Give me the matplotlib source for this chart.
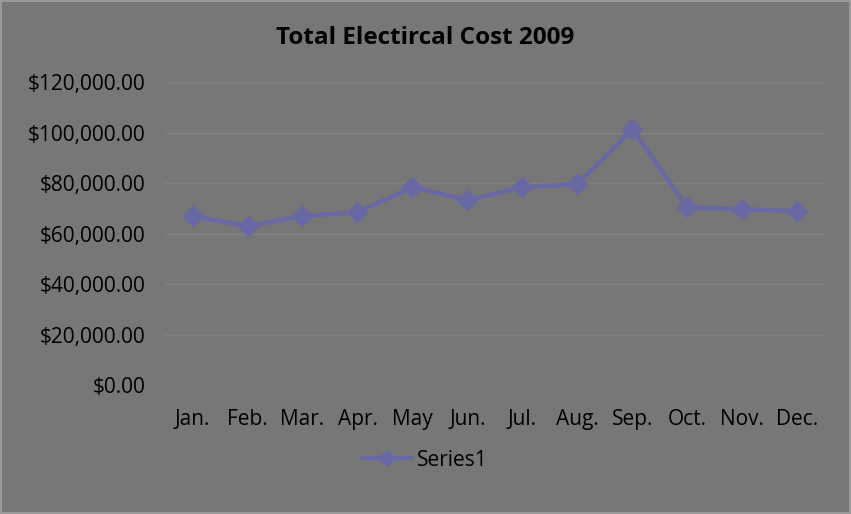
import matplotlib.pyplot as plt

months = ["Jan.", "Feb.", "Mar.", "Apr.", "May", "Jun.", "Jul.", "Aug.", "Sep.", "Oct.", "Nov.", "Dec."]
cost = [67000, 63000, 67000, 68500, 78400, 73300, 78400, 79600, 101400, 70500, 69700, 68900]
yticks = [0, 20000, 40000, 60000, 80000, 100000, 120000]

plt.rcParams["font.family"] = ["Open Sans", "DejaVu Sans"]
bg = "#777777"

fig = plt.figure(figsize=(8.51, 5.14), dpi=100, facecolor=bg)
fig.patch.set_edgecolor("#9a9a9a")
fig.patch.set_linewidth(1.5)
ax = fig.add_axes([0.194, 0.251, 0.775, 0.589], facecolor=bg)

x = range(len(months))
ax.plot(x, cost, color="#6868a4", lw=3.2, marker="D", markersize=10, label="Series1")

ax.set_xlim(-0.5, len(months) - 0.5)
ax.set_ylim(0, 120000)
ax.set_yticks(yticks)
ax.set_yticklabels([f"${v:,.2f}" for v in yticks])
ax.set_xticks(list(x))
ax.set_xticklabels(months)
ax.tick_params(length=0, labelsize=15, colors="black", pad=14)
ax.tick_params(axis="x", pad=17)
ax.grid(axis="y", color="#828282", lw=1)
ax.set_axisbelow(True)
for s in ax.spines.values():
    s.set_visible(False)

fig.suptitle("Total Electircal Cost 2009", fontsize=17.5, fontweight="bold", y=0.95)
fig.legend(loc="center", bbox_to_anchor=(0.5, 0.105), frameon=False, fontsize=15,
           handlelength=2.3, handletextpad=0.3, markerscale=0.8)

fig.savefig("out.png", facecolor=bg, edgecolor=fig.patch.get_edgecolor())
